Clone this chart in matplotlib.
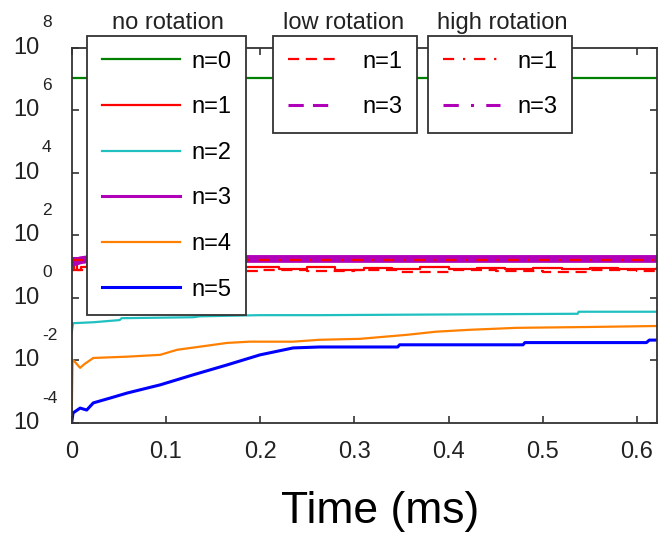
import matplotlib
matplotlib.use('Agg')
import matplotlib.pyplot as plt
from matplotlib.lines import Line2D

plt.rcParams['font.family'] = ['Liberation Sans', 'DejaVu Sans']

# ---- data ----
# no rotation
t_n0 = [0, 0.621]
n0 = [1.1e7, 1.1e7]

t_n1 = [0, 0.002, 0.006, 0.010, 0.016, 0.03, 0.06, 0.10, 0.14, 0.18, 0.20, 0.22, 0.25,
        0.28, 0.31, 0.34, 0.37, 0.40, 0.43, 0.46, 0.49, 0.52, 0.55, 0.58, 0.621]
n1 = [7.5, 12.0, 7.5, 10.0, 11.0, 10.0, 9.5, 10.0, 9.5, 9.5, 10.0, 8.5, 9.5,
      8.0, 9.0, 8.5, 9.5, 8.5, 9.0, 8.5, 9.0, 8.5, 9.0, 8.5, 9.0]

t_n2 = [0, 0.0015, 0.023, 0.051, 0.053, 0.129, 0.136, 0.2, 0.263, 0.537, 0.538, 0.621]
n2 = [0.076, 0.155, 0.166, 0.195, 0.224, 0.24, 0.257, 0.28, 0.28, 0.31, 0.36, 0.36]

t_n3 = [0, 0.01, 0.02, 0.621]
n3 = [13, 16, 17.5, 17.5]

t_n4 = [0, 0.001, 0.0036, 0.009, 0.014, 0.023, 0.059, 0.094, 0.112, 0.136, 0.165, 0.189,
        0.235, 0.263, 0.306, 0.356, 0.387, 0.423, 0.472, 0.547, 0.621]
n4 = [1.1e-4, 0.0105, 0.0089, 0.0058, 0.0078, 0.012, 0.0132, 0.0151, 0.0219, 0.0275, 0.0363,
      0.0398, 0.0398, 0.0457, 0.049, 0.066, 0.083, 0.0955, 0.11, 0.117, 0.126]

t_n5 = [0, 0.0015, 0.009, 0.016, 0.023, 0.041, 0.059, 0.094, 0.129, 0.165, 0.2, 0.235,
        0.263, 0.346, 0.348, 0.479, 0.481, 0.610, 0.613, 0.621]
n5 = [1.0e-4, 2.1e-4, 3.0e-4, 2.6e-4, 4.4e-4, 6.3e-4, 9.1e-4, 1.66e-3, 3.47e-3, 7.2e-3,
      0.0151, 0.0251, 0.0269, 0.0269, 0.0316, 0.0316, 0.0372, 0.0372, 0.0447, 0.0447]

# low rotation
t_lo1 = [0, 0.05, 0.10, 0.15, 0.20, 0.25, 0.30, 0.35, 0.40, 0.45, 0.50, 0.55, 0.60, 0.621]
lo1 = [7.8, 7.3, 7.8, 7.0, 7.5, 7.0, 7.6, 6.9, 7.5, 7.0, 6.9, 7.5, 7.0, 7.0]
t_lo3 = [0, 0.621]
lo3 = [18.5, 18.5]

# high rotation
t_hi1 = [0, 0.621]
hi1 = [16.5, 16.5]
t_hi3 = [0, 0.621]
hi3 = [16.5, 16.5]

xticks = [0, 0.1, 0.2, 0.3, 0.4, 0.5, 0.6]
xtick_labels = ['0', '0.1', '0.2', '0.3', '0.4', '0.5', '0.6']
yticks = [1e-4, 1e-2, 1e0, 1e2, 1e4, 1e6, 1e8]
ytick_exps = ['-4', '-2', '0', '2', '4', '6', '8']

fig = plt.figure(figsize=(6.59, 5.35), dpi=100)
ax = fig.add_axes([0.1087, 0.2093, 0.888, 0.7019])

green = '#008000'
red = '#ff0000'
cyan = '#20c0c0'
magenta = '#b000b8'
orange = '#ff8000'
blue = '#0000ff'
dash = (0, (5, 3))
dashdot = (0, (5, 4, 1, 4))

l0, = ax.plot(t_n0, n0, color=green, lw=1.6)
l1, = ax.plot(t_n1, n1, color=red, lw=1.6, drawstyle='steps-post')
l2, = ax.plot(t_n2, n2, color=cyan, lw=1.6)
ax.plot(t_n3, n3, color=magenta, lw=5.6)   # the three n=3 curves sit on top of each other
l4, = ax.plot(t_n4, n4, color=orange, lw=1.6)
l5, = ax.plot(t_n5, n5, color=blue, lw=2.2)

m1, = ax.plot(t_lo1, lo1, color=red, lw=1.6, ls=dash, drawstyle='steps-post')
ax.plot(t_lo3, lo3, color=magenta, lw=2.2, ls=dash)
ax.plot(t_hi3, hi3, color=magenta, lw=2.2, ls=dashdot)
h1, = ax.plot(t_hi1, hi1, color=red, lw=1.6, ls=dashdot)

# legend proxies with normal width for the magenta curves
l3 = Line2D([], [], color=magenta, lw=2.2)
m3 = Line2D([], [], color=magenta, lw=2.2, ls=dash)
h3 = Line2D([], [], color=magenta, lw=2.2, ls=dashdot)

ax.set_yscale('log')
ax.set_xlim(0, 0.621)
ax.set_ylim(1e-4, 1e8)
ax.set_xticks(xticks)
ax.set_xticklabels(xtick_labels)
ax.set_yticks(yticks)
ax.set_yticklabels([''] * len(yticks))
ax.minorticks_off()

# matlab style "10" with a raised exponent, left aligned
for val, ex in zip(yticks, ytick_exps):
    ax.annotate('10', xy=(0, val), xycoords=ax.get_yaxis_transform(),
                xytext=(-58.6 * 0.72, 0), textcoords='offset points',
                ha='left', va='center', fontsize=17, color='#222222',
                annotation_clip=False)
    ax.annotate(ex, xy=(0, val), xycoords=ax.get_yaxis_transform(),
                xytext=(-29.6 * 0.72, 25 * 0.72), textcoords='offset points',
                ha='left', va='center', fontsize=12.5, color='#222222',
                annotation_clip=False)

for s in ax.spines.values():
    s.set_color('#333333')
    s.set_linewidth(1.3)
ax.tick_params(direction='in', top=True, right=True, length=5, width=1.2,
               labelsize=17, labelcolor='#222222', color='#333333')
ax.tick_params(axis='x', pad=13)

leg_kw = dict(loc='upper left', bbox_transform=fig.transFigure, borderaxespad=0,
              fontsize=17, frameon=True, fancybox=False, framealpha=1,
              edgecolor='#333333', borderpad=0.62, labelspacing=1.0)

leg1 = ax.legend([l0, l1, l2, l3, l4, l5], ['n=0', 'n=1', 'n=2', 'n=3', 'n=4', 'n=5'],
                 bbox_to_anchor=(87 / 659, 1 - 36 / 535), handlelength=3.3,
                 handletextpad=0.5, **leg_kw)
leg1.get_frame().set_linewidth(1.3)
ax.add_artist(leg1)

leg2 = ax.legend([m1, m3], ['n=1', 'n=3'], bbox_to_anchor=(273 / 659, 1 - 36 / 535),
                 handlelength=2.0, handletextpad=1.15, **leg_kw)
leg2.get_frame().set_linewidth(1.3)
ax.add_artist(leg2)

leg3 = ax.legend([h1, h3], ['n=1', 'n=3'], bbox_to_anchor=(428 / 659, 1 - 36 / 535),
                 handlelength=2.45, handletextpad=0.7, **leg_kw)
leg3.get_frame().set_linewidth(1.3)

fig.text(168 / 659, 1 - 29 / 535, 'no rotation', ha='center', va='baseline',
         fontsize=17, color='#222222')
fig.text(344 / 659, 1 - 29 / 535, 'low rotation', ha='center', va='baseline',
         fontsize=17, color='#222222')
fig.text(502 / 659, 1 - 29 / 535, 'high rotation', ha='center', va='baseline',
         fontsize=17, color='#222222')

fig.text(380 / 659, 1 - 523 / 535, 'Time (ms)', ha='center', va='baseline', fontsize=32)

plt.savefig('out.png', dpi=100)
